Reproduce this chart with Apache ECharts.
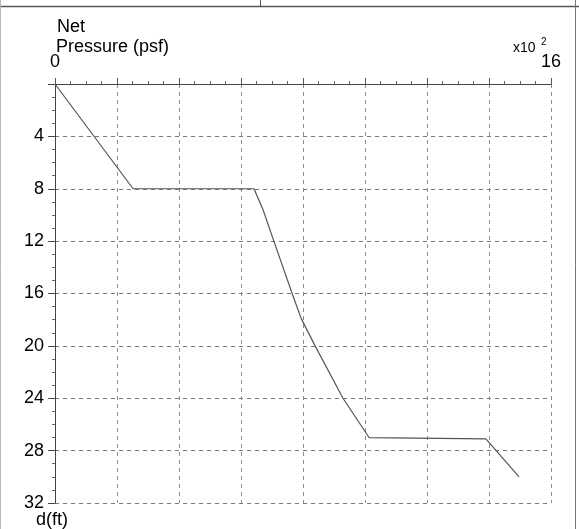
<!DOCTYPE html>
<html>
<head>
<meta charset="utf-8">
<script src="https://cdn.jsdelivr.net/npm/echarts@6/dist/echarts.min.js"></script>
<style>
  html, body { margin: 0; padding: 0; background: #fff; }
  #chart { width: 579px; height: 529px; }
</style>
</head>
<body>
<div id="chart"></div>
<script>
// net pressure (psf) vs depth d (ft)
const pressure = [0, 252, 642, 671, 706, 765, 794, 839, 929, 1013, 1390, 1497];
const depth = [0, 8, 8, 9.6, 12, 16, 17.9, 20, 24, 27.0, 27.1, 30];
const xShownTicks = [0, 1600];   // only ends labelled, shown as x10^2
const yTicks = [4, 8, 12, 16, 20, 24, 28, 32];

const font = 'Liberation Sans, Arial, sans-serif';
const chart = echarts.init(document.getElementById('chart'));

chart.setOption({
  animation: false,
  backgroundColor: '#fff',
  grid: { left: 55, right: 28, top: 84, bottom: 26 },
  xAxis: {
    type: 'value',
    position: 'top',
    min: 0, max: 1600, interval: 200,
    axisLine: { show: true, lineStyle: { color: '#444', width: 1 } },
    axisTick: { show: true, inside: false, length: 6, lineStyle: { color: '#555' } },
    minorTick: { show: true, splitNumber: 4, length: 3, lineStyle: { color: '#666' } },
    axisLabel: {
      margin: 13, fontSize: 18, color: '#000', fontFamily: font,
      showMinLabel: true, showMaxLabel: true,
      formatter: (v) => xShownTicks.includes(v) ? String(v / 100) : ''
    },
    splitLine: { show: true, lineStyle: { color: '#8a8a8a', type: [4, 4], width: 1 } }
  },
  yAxis: {
    type: 'value',
    inverse: true,
    min: 0, max: 32, interval: 4,
    axisLine: { show: true, lineStyle: { color: '#444', width: 1 } },
    axisTick: { show: true, inside: false, length: 7, lineStyle: { color: '#444' } },
    minorTick: { show: true, splitNumber: 4, length: 3, lineStyle: { color: '#666' } },
    axisLabel: {
      margin: 11, fontSize: 18, color: '#000', fontFamily: font,
      formatter: (v) => yTicks.includes(v) ? String(v) : ''
    },
    splitLine: { show: true, lineStyle: { color: '#7a7a7a', type: [4, 4], width: 1 } }
  },
  series: [{
    type: 'line',
    data: pressure.map((p, i) => [p, depth[i]]),
    showSymbol: false,
    smooth: false,
    lineStyle: { color: '#555', width: 1.2 }
  }],
  graphic: [
    { type: 'text', left: 57, top: 18, style: { text: 'Net', fontSize: 18, fontFamily: font, fill: '#000' } },
    { type: 'text', left: 56, top: 38, style: { text: 'Pressure (psf)', fontSize: 18, fontFamily: font, fill: '#000' } },
    { type: 'text', left: 513, top: 41, style: { text: 'x10', fontSize: 14, fontFamily: font, fill: '#000' } },
    { type: 'text', left: 541, top: 37, style: { text: '2', fontSize: 10, fontFamily: font, fill: '#000' } },
    { type: 'text', left: 36, top: 511, style: { text: 'd(ft)', fontSize: 18, fontFamily: font, fill: '#000' } },
    // table frame from the scanned page
    { type: 'line', shape: { x1: 0, y1: 6.5, x2: 579, y2: 6.5 }, style: { stroke: '#555', lineWidth: 1.5 } },
    { type: 'line', shape: { x1: 260.5, y1: 0, x2: 260.5, y2: 6 }, style: { stroke: '#555', lineWidth: 1 } },
    { type: 'line', shape: { x1: 575.5, y1: 0, x2: 575.5, y2: 529 }, style: { stroke: '#777', lineWidth: 1 } },
    { type: 'line', shape: { x1: 0.5, y1: 0, x2: 0.5, y2: 529 }, style: { stroke: '#bbb', lineWidth: 1 } }
  ]
});
</script>
</body>
</html>
